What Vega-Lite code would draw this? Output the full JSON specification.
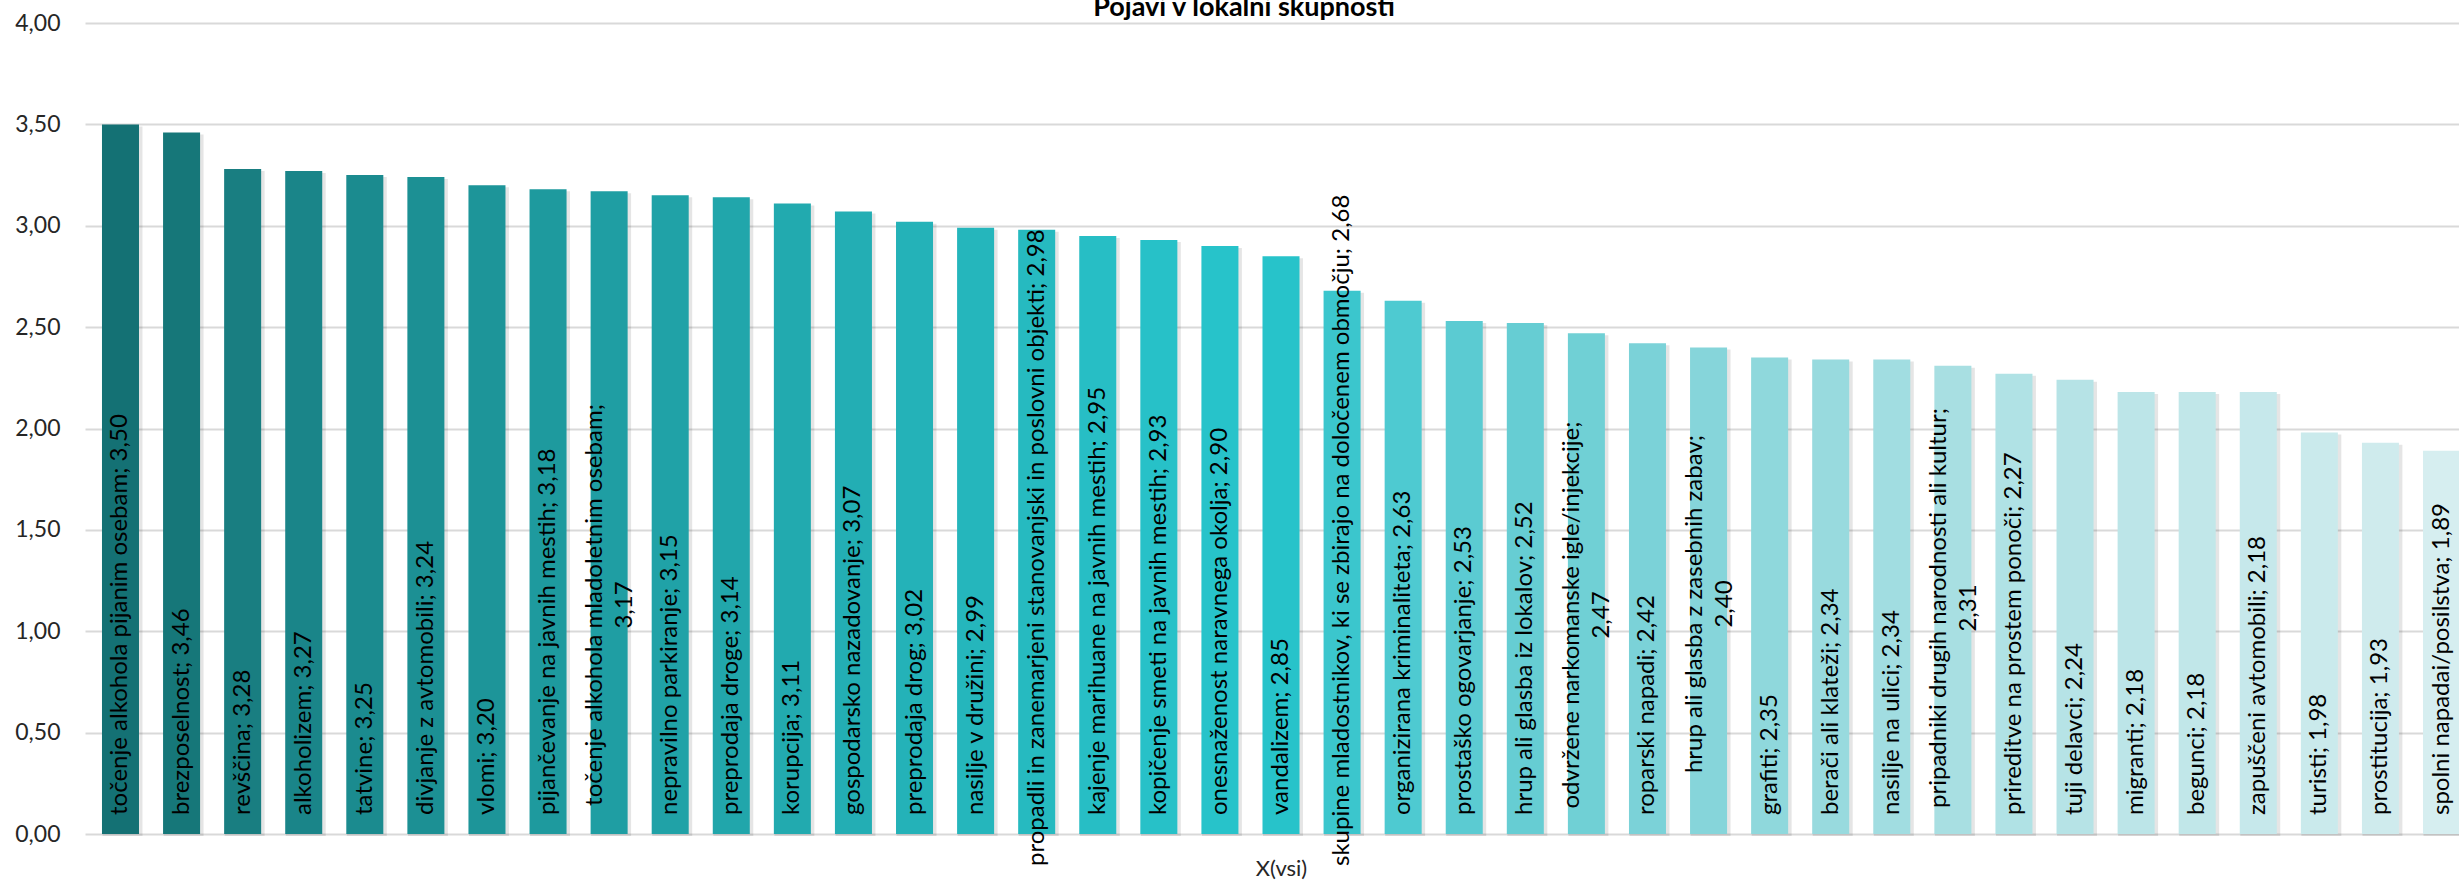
{
  "$schema": "https://vega.github.io/schema/vega-lite/v6.json",
  "autosize": {"type": "none"},
  "padding": {"left": 85, "top": 23, "right": 0, "bottom": 52},
  "width": 2374,
  "height": 811,
  "background": "white",
  "title": {
    "text": "Pojavi v lokalni skupnosti",
    "font": "Lato",
    "fontSize": 27,
    "fontWeight": "bold",
    "color": "#000000",
    "anchor": "middle",
    "dx": -28,
    "dy": 22,
    "offset": -9,
    "baseline": "alphabetic"
  },
  "data": {
    "values": [
      {"pojav": "točenje alkohola pijanim osebam", "vrednost": 3.50, "oznaka": "točenje alkohola pijanim osebam; 3,50"},
      {"pojav": "brezposelnost", "vrednost": 3.46, "oznaka": "brezposelnost; 3,46"},
      {"pojav": "revščina", "vrednost": 3.28, "oznaka": "revščina; 3,28"},
      {"pojav": "alkoholizem", "vrednost": 3.27, "oznaka": "alkoholizem; 3,27"},
      {"pojav": "tatvine", "vrednost": 3.25, "oznaka": "tatvine; 3,25"},
      {"pojav": "divjanje z avtomobili", "vrednost": 3.24, "oznaka": "divjanje z avtomobili; 3,24"},
      {"pojav": "vlomi", "vrednost": 3.20, "oznaka": "vlomi; 3,20"},
      {"pojav": "pijančevanje na javnih mestih", "vrednost": 3.18, "oznaka": "pijančevanje na javnih mestih; 3,18"},
      {"pojav": "točenje alkohola mladoletnim osebam", "vrednost": 3.17, "oznaka": ["točenje alkohola mladoletnim osebam;", "3,17"]},
      {"pojav": "nepravilno parkiranje", "vrednost": 3.15, "oznaka": "nepravilno parkiranje; 3,15"},
      {"pojav": "preprodaja droge", "vrednost": 3.14, "oznaka": "preprodaja droge; 3,14"},
      {"pojav": "korupcija", "vrednost": 3.11, "oznaka": "korupcija; 3,11"},
      {"pojav": "gospodarsko nazadovanje", "vrednost": 3.07, "oznaka": "gospodarsko nazadovanje; 3,07"},
      {"pojav": "preprodaja drog", "vrednost": 3.02, "oznaka": "preprodaja drog; 3,02"},
      {"pojav": "nasilje v družini", "vrednost": 2.99, "oznaka": "nasilje v družini; 2,99"},
      {"pojav": "propadli in zanemarjeni stanovanjski in poslovni objekti", "vrednost": 2.98, "oznaka": "propadli in zanemarjeni stanovanjski in poslovni objekti; 2,98"},
      {"pojav": "kajenje marihuane na javnih mestih", "vrednost": 2.95, "oznaka": "kajenje marihuane na javnih mestih; 2,95"},
      {"pojav": "kopičenje smeti na javnih mestih", "vrednost": 2.93, "oznaka": "kopičenje smeti na javnih mestih; 2,93"},
      {"pojav": "onesnaženost naravnega okolja", "vrednost": 2.90, "oznaka": "onesnaženost naravnega okolja; 2,90"},
      {"pojav": "vandalizem", "vrednost": 2.85, "oznaka": "vandalizem; 2,85"},
      {"pojav": "skupine mladostnikov, ki se zbirajo na določenem območju", "vrednost": 2.68, "oznaka": "skupine mladostnikov, ki se zbirajo na določenem območju; 2,68"},
      {"pojav": "organizirana kriminaliteta", "vrednost": 2.63, "oznaka": "organizirana kriminaliteta; 2,63"},
      {"pojav": "prostaško ogovarjanje", "vrednost": 2.53, "oznaka": "prostaško ogovarjanje; 2,53"},
      {"pojav": "hrup ali glasba iz lokalov", "vrednost": 2.52, "oznaka": "hrup ali glasba iz lokalov; 2,52"},
      {"pojav": "odvržene narkomanske igle/injekcije", "vrednost": 2.47, "oznaka": ["odvržene narkomanske igle/injekcije;", "2,47"]},
      {"pojav": "roparski napadi", "vrednost": 2.42, "oznaka": "roparski napadi; 2,42"},
      {"pojav": "hrup ali glasba z zasebnih zabav", "vrednost": 2.40, "oznaka": ["hrup ali glasba z zasebnih zabav;", "2,40"]},
      {"pojav": "grafiti", "vrednost": 2.35, "oznaka": "grafiti; 2,35"},
      {"pojav": "berači ali klateži", "vrednost": 2.34, "oznaka": "berači ali klateži; 2,34"},
      {"pojav": "nasilje na ulici", "vrednost": 2.34, "oznaka": "nasilje na ulici; 2,34"},
      {"pojav": "pripadniki drugih narodnosti ali kultur", "vrednost": 2.31, "oznaka": ["pripadniki drugih narodnosti ali kultur;", "2,31"]},
      {"pojav": "prireditve na prostem ponoči", "vrednost": 2.27, "oznaka": "prireditve na prostem ponoči; 2,27"},
      {"pojav": "tuji delavci", "vrednost": 2.24, "oznaka": "tuji delavci; 2,24"},
      {"pojav": "migranti", "vrednost": 2.18, "oznaka": "migranti; 2,18"},
      {"pojav": "begunci", "vrednost": 2.18, "oznaka": "begunci; 2,18"},
      {"pojav": "zapuščeni avtomobili", "vrednost": 2.18, "oznaka": "zapuščeni avtomobili; 2,18"},
      {"pojav": "turisti", "vrednost": 1.98, "oznaka": "turisti; 1,98"},
      {"pojav": "prostitucija", "vrednost": 1.93, "oznaka": "prostitucija; 1,93"},
      {"pojav": "spolni napadai/posilstva", "vrednost": 1.89, "oznaka": "spolni napadai/posilstva; 1,89"}
    ]
  },
  "encoding": {
    "x": {
      "field": "pojav",
      "type": "nominal",
      "sort": null,
      "scale": {
        "domain": ["točenje alkohola pijanim osebam", "brezposelnost", "revščina", "alkoholizem", "tatvine", "divjanje z avtomobili", "vlomi", "pijančevanje na javnih mestih", "točenje alkohola mladoletnim osebam", "nepravilno parkiranje", "preprodaja droge", "korupcija", "gospodarsko nazadovanje", "preprodaja drog", "nasilje v družini", "propadli in zanemarjeni stanovanjski in poslovni objekti", "kajenje marihuane na javnih mestih", "kopičenje smeti na javnih mestih", "onesnaženost naravnega okolja", "vandalizem", "skupine mladostnikov, ki se zbirajo na določenem območju", "organizirana kriminaliteta", "prostaško ogovarjanje", "hrup ali glasba iz lokalov", "odvržene narkomanske igle/injekcije", "roparski napadi", "hrup ali glasba z zasebnih zabav", "grafiti", "berači ali klateži", "nasilje na ulici", "pripadniki drugih narodnosti ali kultur", "prireditve na prostem ponoči", "tuji delavci", "migranti", "begunci", "zapuščeni avtomobili", "turisti", "prostitucija", "spolni napadai/posilstva"],
        "range": [0, 2392],
        "paddingInner": 0.394,
        "paddingOuter": 0.278
      },
      "axis": {
        "labels": false,
        "ticks": false,
        "domain": false,
        "grid": false,
        "title": "X(vsi)",
        "titleFont": "Lato",
        "titleFontSize": 22,
        "titleFontWeight": "normal",
        "titleColor": "#262626",
        "titlePadding": 24,
        "titleX": 1196,
        "titleAlign": "center"
      }
    }
  },
  "layer": [
    {
      "mark": {"type": "bar", "color": "#000000", "opacity": 0.1, "xOffset": 2, "yOffset": 2, "width": {"band": 1.08}},
      "encoding": {
        "y": {
          "field": "vrednost",
          "type": "quantitative",
          "scale": {"domain": [0, 4], "nice": false, "zero": true},
          "axis": {
            "values": [0, 0.5, 1, 1.5, 2, 2.5, 3, 3.5, 4],
            "labelExpr": "replace(format(datum.value, '.2f'), '.', ',')",
            "grid": true,
            "gridColor": "#D9D9D9",
            "gridWidth": 2,
            "domain": false,
            "ticks": false,
            "tickSize": 0,
            "labelPadding": 25,
            "labelFont": "Lato",
            "labelFontSize": 23,
            "labelColor": "#262626",
            "title": null
          }
        }
      }
    },
    {
      "mark": {"type": "bar"},
      "encoding": {
        "y": {"field": "vrednost", "type": "quantitative"},
        "color": {
          "field": "pojav",
          "type": "nominal",
          "legend": null,
          "scale": {
            "domain": ["točenje alkohola pijanim osebam", "brezposelnost", "revščina", "alkoholizem", "tatvine", "divjanje z avtomobili", "vlomi", "pijančevanje na javnih mestih", "točenje alkohola mladoletnim osebam", "nepravilno parkiranje", "preprodaja droge", "korupcija", "gospodarsko nazadovanje", "preprodaja drog", "nasilje v družini", "propadli in zanemarjeni stanovanjski in poslovni objekti", "kajenje marihuane na javnih mestih", "kopičenje smeti na javnih mestih", "onesnaženost naravnega okolja", "vandalizem", "skupine mladostnikov, ki se zbirajo na določenem območju", "organizirana kriminaliteta", "prostaško ogovarjanje", "hrup ali glasba iz lokalov", "odvržene narkomanske igle/injekcije", "roparski napadi", "hrup ali glasba z zasebnih zabav", "grafiti", "berači ali klateži", "nasilje na ulici", "pripadniki drugih narodnosti ali kultur", "prireditve na prostem ponoči", "tuji delavci", "migranti", "begunci", "zapuščeni avtomobili", "turisti", "prostitucija", "spolni napadai/posilstva"],
            "range": ["#147174", "#167779", "#197E81", "#1A8589", "#1B8B8F", "#1C9094", "#1D9599", "#1E9A9E", "#1F9EA3", "#20A2A7", "#21A6AB", "#22AAAF", "#23AEB4", "#24B2B8", "#25B6BC", "#26BAC0", "#27BEC5", "#27C1C8", "#27C3CA", "#27C3CA", "#3BC6CD", "#4ECAD1", "#5BCBD2", "#66CDD3", "#70D0D5", "#7BD2D8", "#86D5DA", "#8FD8DC", "#98DADE", "#A1DDE1", "#A8DFE2", "#B0E2E5", "#B6E3E6", "#BCE5E8", "#C1E7E9", "#C6E8EB", "#CAEAEC", "#CFEBED", "#D6EEF0"]
          }
        }
      }
    },
    {
      "transform": [{"filter": {"not": {"field": "pojav", "oneOf": ["točenje alkohola mladoletnim osebam", "propadli in zanemarjeni stanovanjski in poslovni objekti", "skupine mladostnikov, ki se zbirajo na določenem območju", "odvržene narkomanske igle/injekcije", "hrup ali glasba z zasebnih zabav", "pripadniki drugih narodnosti ali kultur"]}}}],
      "mark": {"type": "text", "angle": 270, "align": "left", "baseline": "middle", "dx": 19, "font": "Lato", "fontSize": 24, "color": "#000000"},
      "encoding": {
        "y": {"datum": 0},
        "text": {"field": "oznaka"}
      }
    },
    {
      "transform": [{"filter": {"field": "pojav", "oneOf": ["propadli in zanemarjeni stanovanjski in poslovni objekti", "skupine mladostnikov, ki se zbirajo na določenem območju"]}}],
      "mark": {"type": "text", "angle": 270, "align": "left", "baseline": "middle", "dx": -32, "font": "Lato", "fontSize": 24, "color": "#000000"},
      "encoding": {
        "y": {"datum": 0},
        "text": {"field": "oznaka"}
      }
    },
    {
      "transform": [{"filter": {"field": "pojav", "equal": "točenje alkohola mladoletnim osebam"}}],
      "mark": {"type": "text", "angle": 270, "align": "center", "baseline": "middle", "dx": 229, "dy": -14, "lineHeight": 30, "font": "Lato", "fontSize": 24, "color": "#000000"},
      "encoding": {
        "y": {"datum": 0},
        "text": {"field": "oznaka"}
      }
    },
    {
      "transform": [{"filter": {"field": "pojav", "equal": "odvržene narkomanske igle/injekcije"}}],
      "mark": {"type": "text", "angle": 270, "align": "center", "baseline": "middle", "dx": 219, "dy": -14, "lineHeight": 30, "font": "Lato", "fontSize": 24, "color": "#000000"},
      "encoding": {
        "y": {"datum": 0},
        "text": {"field": "oznaka"}
      }
    },
    {
      "transform": [{"filter": {"field": "pojav", "equal": "hrup ali glasba z zasebnih zabav"}}],
      "mark": {"type": "text", "angle": 270, "align": "center", "baseline": "middle", "dx": 230, "dy": -14, "lineHeight": 30, "font": "Lato", "fontSize": 24, "color": "#000000"},
      "encoding": {
        "y": {"datum": 0},
        "text": {"field": "oznaka"}
      }
    },
    {
      "transform": [{"filter": {"field": "pojav", "equal": "pripadniki drugih narodnosti ali kultur"}}],
      "mark": {"type": "text", "angle": 270, "align": "center", "baseline": "middle", "dx": 226, "dy": -14, "lineHeight": 30, "font": "Lato", "fontSize": 24, "color": "#000000"},
      "encoding": {
        "y": {"datum": 0},
        "text": {"field": "oznaka"}
      }
    }
  ],
  "config": {
    "view": {"stroke": null},
    "font": "Lato"
  }
}
